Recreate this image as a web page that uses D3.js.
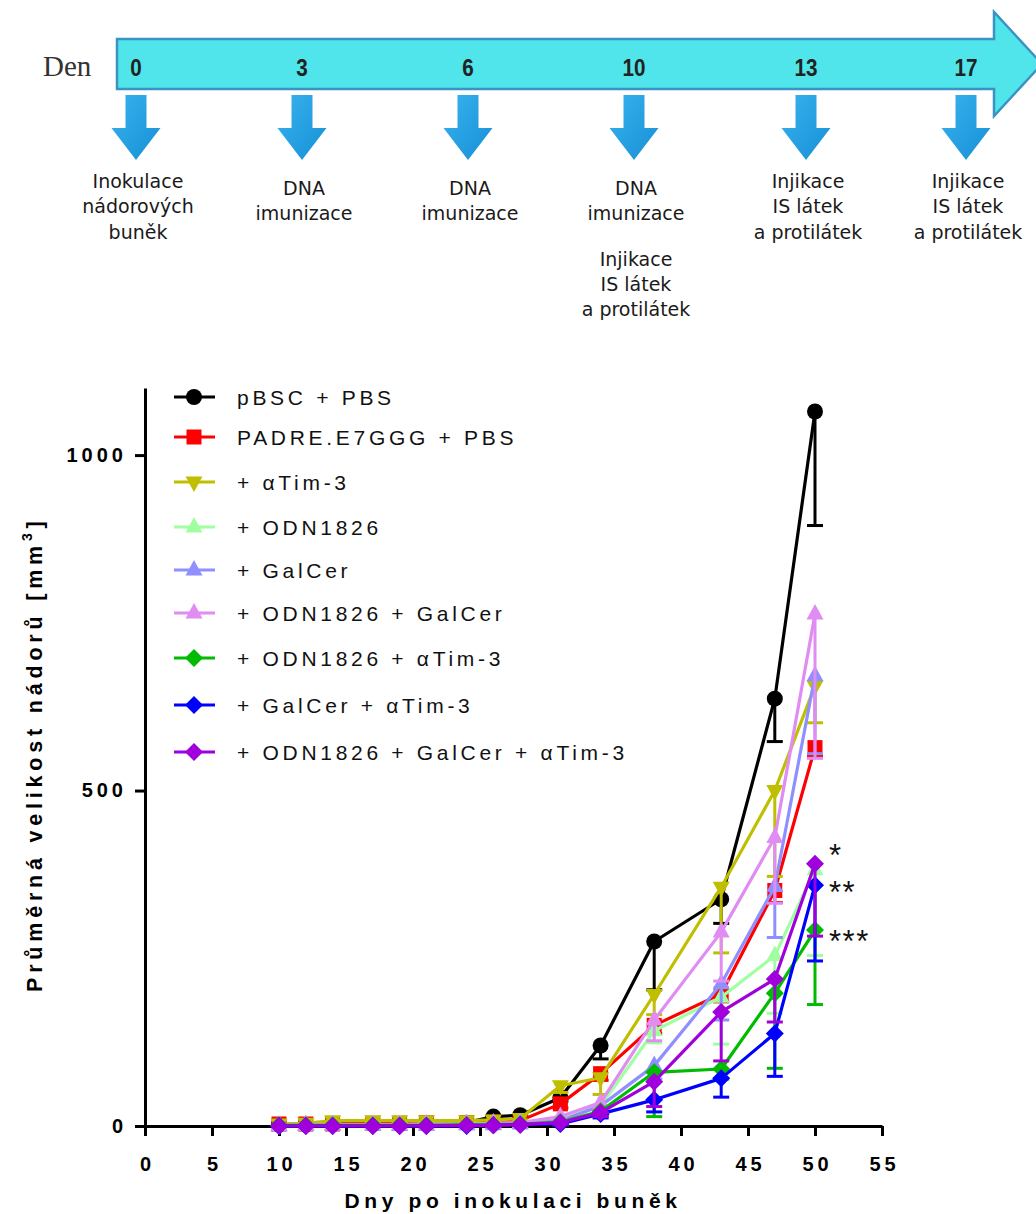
<!DOCTYPE html>
<html><head><meta charset="utf-8">
<script src="https://cdn.jsdelivr.net/npm/d3@7"></script>
<style>body{margin:0;background:#fff}</style>
</head><body><svg id="c" width="1036" height="1214"></svg>
<script>
// ---------- DATA ----------
const timelineDays = ["0","3","6","10","13","17"];
const timelineLabels = [
  [["Inokulace","nádorových","buněk"]],
  [["DNA","imunizace"]],
  [["DNA","imunizace"]],
  [["DNA","imunizace"],["Injikace","IS látek","a protilátek"]],
  [["Injikace","IS látek","a protilátek"]],
  [["Injikace","IS látek","a protilátek"]]
];
const days = [10,12,14,17,19,21,24,26,28,31,34,38,43,47,50];
const seriesNames = ["pBSC + PBS","PADRE.E7GGG + PBS","+ αTim-3","+ ODN1826","+ GalCer",
  "+ ODN1826 + GalCer","+ ODN1826 + αTim-3","+ GalCer + αTim-3","+ ODN1826 + GalCer + αTim-3"];
const pbscPbs      = [2,2,3,3,3,3,5,14,16,42,120,275,338,637,1065];
const pbscPbsErr   = [0,0,0,0,0,0,1,3,3,5,20,72,36,64,170];
const padrePbs     = [3,3,3,4,4,5,5,6,8,33,78,150,197,351,564];
const padrePbsErr  = [0,0,0,0,0,1,1,1,2,6,10,12,12,18,12];
const tim3         = [3,4,8,8,8,8,8,9,11,60,72,196,356,500,656];
const tim3Err      = [0,1,2,2,2,2,2,2,2,10,25,30,98,128,55];
const odn          = [1,1,2,2,2,3,3,4,4,10,30,142,192,254,382];
const odnErr       = [0,0,0,0,0,0,1,1,1,3,8,18,70,86,128];
const galcer       = [0,1,1,1,1,1,2,2,3,8,30,90,212,357,671];
const galcerErr    = [0,0,0,0,0,0,1,1,1,3,8,20,54,76,116];
const odnGal       = [1,2,2,2,2,3,3,4,5,14,35,158,289,430,763];
const odnGalErr    = [0,0,0,0,0,1,1,1,1,4,10,31,73,98,215];
const odnTim       = [1,1,1,1,1,1,2,2,3,6,22,80,85,198,292];
const odnTimErr    = [0,0,0,0,0,0,1,1,1,2,6,66,15,112,111];
const galTim       = [0,0,0,0,0,0,0,1,2,3,18,39,71,138,359];
const galTimErr    = [0,0,0,0,0,0,0,0,1,1,6,18,28,64,113];
const odnGalTim    = [0,0,0,0,0,0,1,1,2,5,20,66,170,219,391];
const odnGalTimErr = [0,0,0,0,0,0,1,1,1,2,6,37,73,64,108];
const seriesValues = [pbscPbs,padrePbs,tim3,odn,galcer,odnGal,odnTim,galTim,odnGalTim];
const seriesErrors = [pbscPbsErr,padrePbsErr,tim3Err,odnErr,galcerErr,odnGalErr,odnTimErr,galTimErr,odnGalTimErr];
const seriesColors = ["#000000","#ff0000","#bfbf00","#a0ffa0","#8f8fff","#e08cf2","#00bb00","#0000ff","#a000dc"];
const seriesShapes = ["circle","square","down","up","up","up","diamond","diamond","diamond"];
const xTicks = [0,5,10,15,20,25,30,35,40,45,50,55];
const yTicks = [0,500,1000];
const stars = ["*","**","***"];
const starValues = [391,359,292];

// ---------- DRAW ----------
const svg = d3.select("#c");
const F = "'Liberation Sans', Arial, sans-serif";

// Timeline
const tg = svg.append("g");
const tx = d3.scalePoint().domain(timelineDays).range([136, 966]);
tg.append("polygon")
  .attr("points", [[117,39],[994,39],[994,12],[1042,64],[994,116],[994,89],[117,89]].map(p=>p.join(",")).join(" "))
  .attr("fill","#4fe5ea").attr("stroke","#3a93c2").attr("stroke-width",2.5).attr("stroke-linejoin","miter");
tg.append("text").attr("x",43).attr("y",76).text("Den")
  .attr("font-family","'Liberation Serif','Times New Roman',serif").attr("font-size",29).attr("fill","#333");
const defs = svg.append("defs");
const gr = defs.append("linearGradient").attr("id","ag").attr("x1",0).attr("y1",0).attr("x2",1).attr("y2",1);
gr.append("stop").attr("offset",0).attr("stop-color","#3ab2ee");
gr.append("stop").attr("offset",1).attr("stop-color","#1590d6");
timelineDays.forEach((d,i)=>{
  const c = tx(d) + (i===4 ? 6 : 0);
  tg.append("text").attr("x",c).attr("y",76).attr("text-anchor","middle")
    .attr("font-family",F).attr("font-weight","bold").attr("font-size",24).attr("fill","#222")
    .attr("textLength", d.length*11.5).attr("lengthAdjust","spacingAndGlyphs").text(d);
  tg.append("path").attr("d",`M${c-10.5},95 h21 v33 h14 L${c},160 L${c-24.5},128 h14 Z`).attr("fill","url(#ag)");
  let y = 0;
  timelineLabels[i].forEach((block,bi)=>{
    if (bi===0) y = block.length===3 ? 188 : 195;
    else y += 20;
    block.forEach(line=>{
      tg.append("text").attr("x",c+2).attr("y",y).attr("text-anchor","middle")
        .attr("font-family","'DejaVu Sans', Verdana, sans-serif").attr("font-size",19).attr("fill","#1a1a1a").text(line);
      y += 25.3;
    });
  });
});

// Chart
const x = d3.scaleLinear().domain([0,55]).range([145,882]);
const y = d3.scaleLinear().domain([0,1100]).range([1126,388]);

const xa = svg.append("g").attr("transform","translate(0,1126)")
  .call(d3.axisBottom(x).tickValues(xTicks).tickSize(10).tickSizeOuter(0).tickPadding(14));
const ya = svg.append("g").attr("transform","translate(145,0)")
  .call(d3.axisLeft(y).tickValues(yTicks).tickFormat(d3.format("d")).tickSize(10).tickSizeOuter(0).tickPadding(12));
[xa,ya].forEach(a=>{
  a.select(".domain").attr("stroke","#000").attr("stroke-width",3);
  a.selectAll(".tick line").attr("stroke","#000").attr("stroke-width",3);
  a.selectAll(".tick text").attr("font-family",F).attr("font-weight","bold").attr("font-size",20)
   .attr("fill","#000").style("letter-spacing","4px");
});
xa.selectAll(".tick text").attr("dx",2).attr("dy","1.05em");
ya.selectAll(".tick text").attr("dx",4);

// axis titles
svg.append("text").attr("x",513).attr("y",1208).attr("text-anchor","middle")
  .attr("font-family",F).attr("font-weight","bold").attr("font-size",21)
  .style("letter-spacing","4.6px").text("Dny po inokulaci buněk");
const yt = svg.append("text").attr("transform","translate(42,992) rotate(-90)")
  .attr("font-family",F).attr("font-weight","bold").attr("font-size",21.5).style("letter-spacing","4.8px");
yt.append("tspan").text("Průměrná velikost nádorů  [mm");
yt.append("tspan").attr("font-size",14).attr("dy",-10).text("3");
yt.append("tspan").attr("dy",10).text("]");

// marker shapes
function shapePath(s){
  switch(s){
    case "circle": return "M-8,0a8,8 0 1,0 16,0a8,8 0 1,0 -16,0Z";
    case "square": return "M-7.5,-7.5h15v15h-15Z";
    case "up": return "M0,-10L8.5,5.5L-8.5,5.5Z";
    case "down": return "M0,10L8.5,-5.5L-8.5,-5.5Z";
    case "diamond": return "M0,-9L9,0L0,9L-9,0Z";
  }
}

const line = d3.line().x(d=>x(d[0])).y(d=>y(d[1]));
seriesValues.forEach((vals,si)=>{
  const col = seriesColors[si];
  const g = svg.append("g");
  const pts = days.map((d,i)=>[d, vals[i], seriesErrors[si][i]]);
  pts.forEach(p=>{
    if (p[2] <= 0) return;
    g.append("line").attr("x1",x(p[0])).attr("x2",x(p[0])).attr("y1",y(p[1])).attr("y2",y(p[1]-p[2]))
      .attr("stroke",col).attr("stroke-width",3);
    g.append("line").attr("x1",x(p[0])-8).attr("x2",x(p[0])+8).attr("y1",y(p[1]-p[2])).attr("y2",y(p[1]-p[2]))
      .attr("stroke",col).attr("stroke-width",3);
  });
  g.append("path").datum(pts).attr("d",line).attr("fill","none").attr("stroke",col).attr("stroke-width",3.2)
    .attr("stroke-linejoin","round");
  g.selectAll("path.m").data(pts).join("path").attr("class","m")
    .attr("transform",p=>`translate(${x(p[0])},${y(p[1])})`).attr("d",shapePath(seriesShapes[si])).attr("fill",col);
});

// significance stars
const starOffset = [2,18,22];
stars.forEach((s,i)=>{
  svg.append("text").attr("x",829).attr("y",y(starValues[i]) + starOffset[i])
    .attr("font-family",F).attr("font-size",31).style("letter-spacing","1.5px").attr("fill","#111").text(s);
});

// legend
const legY = [397,437,482,527,570,613,658,705,752];
seriesNames.forEach((n,i)=>{
  const g = svg.append("g").attr("transform",`translate(0,${legY[i]})`);
  g.append("line").attr("x1",174).attr("x2",215).attr("stroke",seriesColors[i]).attr("stroke-width",3.2);
  g.append("path").attr("transform","translate(194,0)").attr("d",shapePath(seriesShapes[i])).attr("fill",seriesColors[i]);
  g.append("text").attr("x",237).attr("y",7.5).attr("font-family",F).attr("font-size",21)
    .style("letter-spacing","3.7px").attr("fill","#111").text(n);
});
</script>
</body></html>
